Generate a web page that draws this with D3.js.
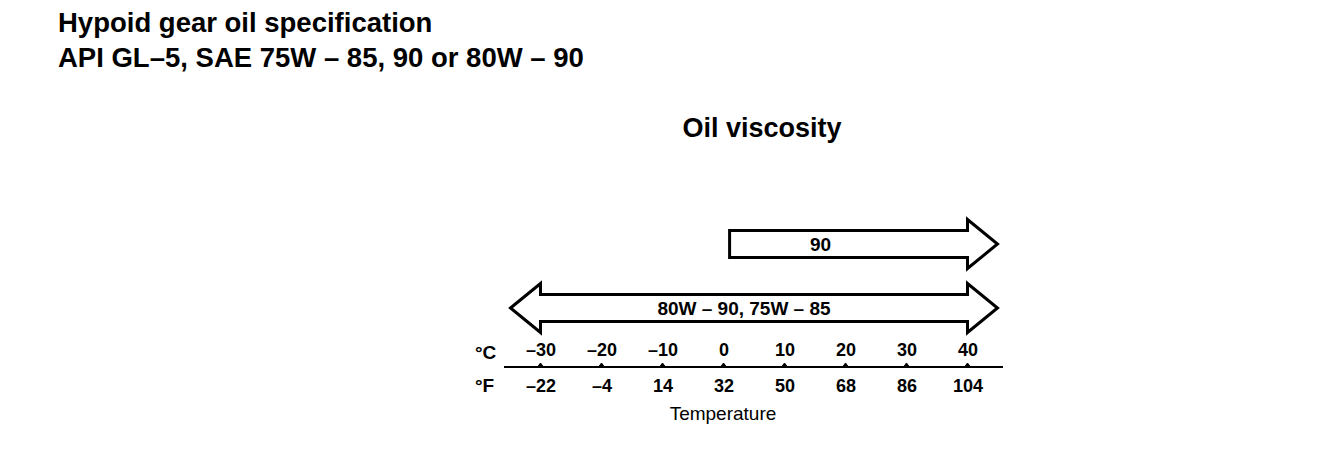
<!DOCTYPE html>
<html>
<head>
<meta charset="utf-8">
<script src="https://cdn.jsdelivr.net/npm/d3@7"></script>
<style>
  html, body { margin: 0; padding: 0; background: #fff; }
  svg { display: block; }
  text { font-family: "Liberation Sans", Arial, sans-serif; fill: #000; }
</style>
</head>
<body>
<div id="chart"></div>
<script>
// ---- data ----
const titleLines = ["Hypoid gear oil specification", "API GL\u20135, SAE 75W \u2013 85, 90 or 80W \u2013 90"];
const chartTitle = "Oil viscosity";
const celsiusTicks = [-30, -20, -10, 0, 10, 20, 30, 40];
const celsiusLabels = ["\u201330", "\u201320", "\u201310", "0", "10", "20", "30", "40"];
const fahrenheitLabels = ["\u201322", "\u20134", "14", "32", "50", "68", "86", "104"];
const rangeLabels = ["90", "80W \u2013 90, 75W \u2013 85"];
const rangeStart = [1, -30];
const rangeEnd = [40, 40];
const rangeLeftArrow = [false, true];
const axisTitle = "Temperature";

// ---- layout ----
const W = 1328, H = 460;
const svg = d3.select("#chart").append("svg").attr("width", W).attr("height", H);

const x = d3.scaleLinear().domain([-30, 40]).range([540.5, 967.5]);
const y = d3.scaleBand().domain(rangeLabels).range([212, 340]).paddingInner(0);

// titles
svg.selectAll("text.title").data(titleLines).join("text")
  .attr("class", "title")
  .attr("x", 58)
  .attr("y", (d, i) => 32 + i * 35)
  .attr("font-size", 27.5)
  .attr("font-weight", "bold")
  .text(d => d);

svg.append("text")
  .attr("x", 762).attr("y", 137)
  .attr("text-anchor", "middle")
  .attr("font-size", 27)
  .attr("font-weight", "bold")
  .text(chartTitle);

// arrows
const shaftH = 13.5, headH = 24.5, headL = 30;
function arrowPath(x0, x1, cy, left) {
  const p = d3.path();
  const tipR = x1 + headL;
  if (left) {
    const tipL = x0 - headL;
    p.moveTo(tipL, cy);
    p.lineTo(x0, cy - headH);
    p.lineTo(x0, cy - shaftH);
  } else {
    p.moveTo(x0, cy - shaftH);
  }
  p.lineTo(x1, cy - shaftH);
  p.lineTo(x1, cy - headH);
  p.lineTo(tipR, cy);
  p.lineTo(x1, cy + headH);
  p.lineTo(x1, cy + shaftH);
  if (left) {
    p.lineTo(x0, cy + shaftH);
    p.lineTo(x0, cy + headH);
    p.closePath();
  } else {
    p.lineTo(x0, cy + shaftH);
    p.closePath();
  }
  return p.toString();
}

const arrows = svg.selectAll("g.arrow").data(rangeLabels).join("g").attr("class", "arrow");
arrows.append("path")
  .attr("d", (d, i) => arrowPath(x(rangeStart[i]), x(rangeEnd[i]), y(d) + y.bandwidth() / 2, rangeLeftArrow[i]))
  .attr("fill", "#fff")
  .attr("stroke", "#000")
  .attr("stroke-width", 3)
  .attr("stroke-linejoin", "miter");
arrows.append("text")
  .attr("x", (d, i) => rangeLeftArrow[i] ? (x(rangeStart[i]) + x(rangeEnd[i])) / 2 - 10 : (x(rangeStart[i]) + x(rangeEnd[i])) / 2 - 28)
  .attr("y", d => y(d) + y.bandwidth() / 2 + 7)
  .attr("text-anchor", "middle")
  .attr("font-size", 19)
  .attr("font-weight", "bold")
  .text(d => d);

// axis
const axisY = 367;
const axis = d3.axisTop(x).tickValues(celsiusTicks).tickSize(0).tickFormat((d, i) => celsiusLabels[i]);
const gAxis = svg.append("g").attr("transform", `translate(0,${axisY})`).call(axis);
gAxis.select(".domain").remove();
gAxis.selectAll("text").attr("font-size", 18).attr("font-weight", "bold")
  .attr("font-family", "Liberation Sans, Arial, sans-serif").attr("fill", "#000").attr("dy", "-0.45em");

svg.append("line")
  .attr("x1", 504).attr("x2", 1003)
  .attr("y1", axisY).attr("y2", axisY)
  .attr("stroke", "#000").attr("stroke-width", 2);

svg.selectAll("path.tickmark").data(celsiusTicks).join("path")
  .attr("class", "tickmark")
  .attr("d", d => `M${x(d) - 3},${axisY} L${x(d)},${axisY - 4} L${x(d) + 3},${axisY} Z`)
  .attr("fill", "#000").attr("stroke", "#000").attr("stroke-width", 1);

const axisB = d3.axisBottom(x).tickValues(celsiusTicks).tickSize(0).tickFormat((d, i) => fahrenheitLabels[i]);
const gAxisB = svg.append("g").attr("transform", `translate(0,${axisY})`).call(axisB);
gAxisB.select(".domain").remove();
gAxisB.selectAll("text").attr("font-size", 18).attr("font-weight", "bold")
  .attr("font-family", "Liberation Sans, Arial, sans-serif").attr("fill", "#000").attr("dy", "1.2em");

svg.append("text").attr("x", 475).attr("y", 359).attr("font-size", 19).attr("font-weight", "bold").text("\u00b0C");
svg.append("text").attr("x", 475).attr("y", 392).attr("font-size", 19).attr("font-weight", "bold").text("\u00b0F");

svg.append("text")
  .attr("x", 723).attr("y", 420)
  .attr("text-anchor", "middle")
  .attr("font-size", 19)
  .text(axisTitle);
</script>
</body>
</html>
